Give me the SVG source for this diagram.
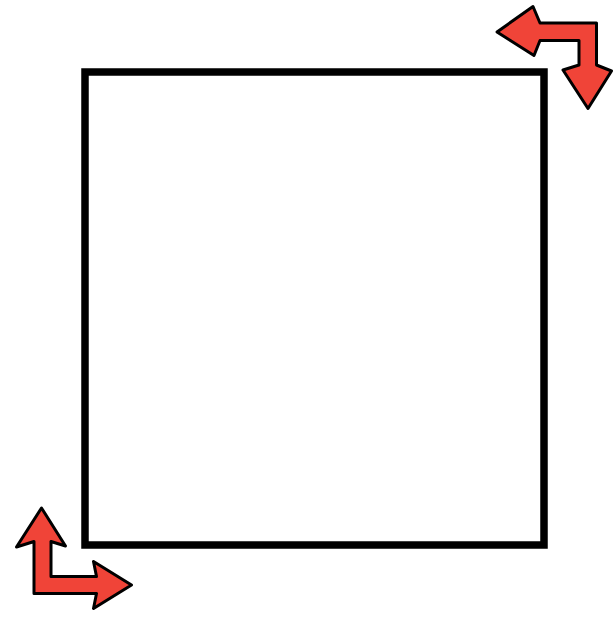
<svg xmlns="http://www.w3.org/2000/svg" width="614" height="617" viewBox="0 0 614 617">
  <style>
    .frame { fill: none; stroke: #000; stroke-width: 7.5; }
    .arrow { fill: #f04438; stroke: #000; stroke-width: 3; stroke-linejoin: round; }
  </style>
  <rect width="614" height="617" fill="#fff"/>
  <g id="frame">
    <rect class="frame" x="85" y="72" width="459" height="473"/>
  </g>
  <g id="arrow-top-right">
    <path class="arrow" d="M497,32 L533,6.5 L540,23 L596.5,23 L596.5,65 L611.5,71 L588,108.5 L563,70 L579,65 L579,40.5 L540,40.5 L534,55.5 Z"/>
  </g>
  <g id="arrow-bottom-left">
    <path class="arrow" d="M41.5,508 L65.5,546 L51,541.5 L51,576.5 L96.5,576.5 L93.5,561.5 L131.5,585 L93.5,608.5 L96.5,593.5 L34,593.5 L34,541.5 L16.5,547 Z"/>
  </g>
</svg>
